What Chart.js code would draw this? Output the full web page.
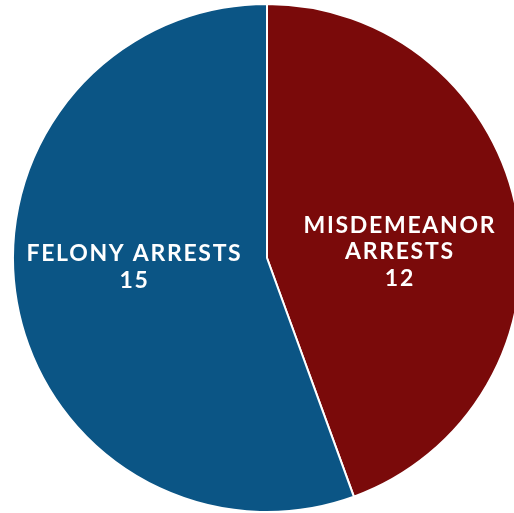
<!DOCTYPE html>
<html>
<head>
<meta charset="utf-8">
<script src="https://cdn.jsdelivr.net/npm/chart.js@4"></script>
<style>
html,body{margin:0;padding:0;background:#fff;overflow:hidden;width:514px;height:513px;}
#wrap{position:absolute;left:0;top:0;width:534px;height:513px;}
</style>
</head>
<body>
<div id="wrap"><canvas id="c"></canvas></div>
<script>
const categories = ["MISDEMEANOR ARRESTS", "FELONY ARRESTS"];
const labelLines = [["MISDEMEANOR", "ARRESTS"], ["FELONY ARRESTS"]];
const values = [12, 15];
const colors = ["#7A0A0A", "#0B5585"];
const labelPos = [[0.52, -0.024], [-0.525, 0.035]];

const labelPlugin = {
  id: 'sliceLabels',
  afterDatasetsDraw(chart) {
    const ctx = chart.ctx;
    const meta = chart.getDatasetMeta(0);
    meta.data.forEach((arc, i) => {
      const r = arc.outerRadius;
      const cx = arc.x + labelPos[i][0] * r;
      const cy = arc.y + labelPos[i][1] * r;
      const lines = labelLines[i].concat([String(values[i])]);
      const lh = 26.5;
      ctx.save();
      ctx.fillStyle = '#ffffff';
      ctx.font = 'bold 23px Lato';
      ctx.letterSpacing = '1.7px';
      ctx.textAlign = 'center';
      ctx.textBaseline = 'middle';
      const y0 = cy - (lines.length - 1) * lh / 2;
      lines.forEach((t, k) => ctx.fillText(t, cx + 0.8, y0 + k * lh));
      ctx.restore();
    });
  }
};

new Chart(document.getElementById('c'), {
  type: 'pie',
  data: {
    labels: categories,
    datasets: [{
      data: values,
      backgroundColor: colors,
      borderColor: '#ffffff',
      borderWidth: 2
    }]
  },
  options: {
    responsive: true,
    maintainAspectRatio: false,
    animation: false,
    layout: { padding: { top: 3, bottom: 0, left: 0, right: 0 } },
    plugins: { legend: { display: false }, tooltip: { enabled: false } }
  },
  plugins: [labelPlugin]
});
</script>
</body>
</html>
